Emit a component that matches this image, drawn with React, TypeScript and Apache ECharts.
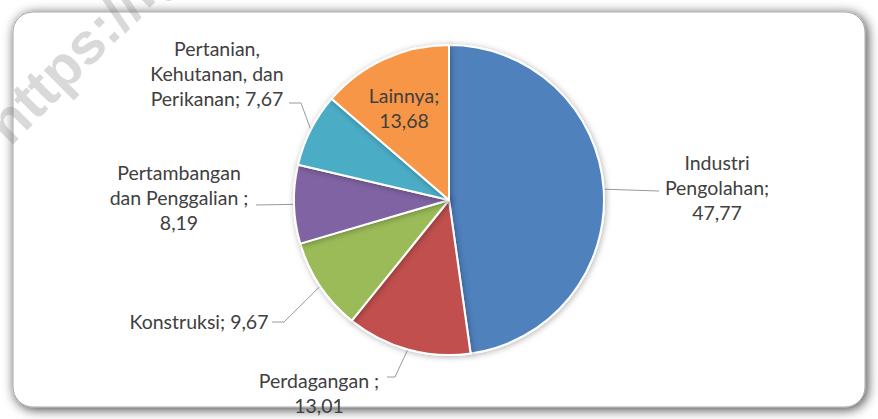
import React, { useEffect, useRef } from 'react';
import * as echarts from 'echarts';

const categories = [
  'Industri Pengolahan',
  'Perdagangan',
  'Konstruksi',
  'Pertambangan dan Penggalian',
  'Pertanian, Kehutanan, dan Perikanan',
  'Lainnya',
];
const values = [47.77, 13.01, 9.67, 8.19, 7.67, 13.68];
const labelTexts = [
  'Industri\nPengolahan;\n47,77',
  'Perdagangan ;\n13,01',
  'Konstruksi; 9,67',
  'Pertambangan\ndan Penggalian ;\n8,19',
  'Pertanian,\nKehutanan, dan\nPerikanan; 7,67',
  'Lainnya;\n13,68',
];
const colors = ['#4F81BD', '#C0504D', '#9BBB59', '#8064A2', '#4BACC6', '#F79646'];

// label layout (block centres) and leader-line bends
const labelAnchors: number[][] = [
  [717, 187],
  [319, 393],
  [199, 321],
  [179, 197],
  [217, 73],
  [404, 108],
];
const leaderBends: number[][][] = [
  [[659, 191], [659, 191]],
  [[395, 377], [387, 377]],
  [[284, 322], [272, 322]],
  [[256, 205], [256, 205]],
  [[301, 103], [289, 103]],
  [],
];

const FONT = 'Lato, "Noto Sans", sans-serif';

export default function App() {
  const ref = useRef<HTMLDivElement>(null);
  useEffect(() => {
    if (!ref.current) return;
    const chart = echarts.init(ref.current, undefined, { renderer: 'svg' });
    chart.setOption({
      animation: false,
      backgroundColor: '#ffffff',
      graphic: [
        {
          type: 'rect',
          z: -10,
          silent: true,
          shape: { x: 13, y: 12, width: 852, height: 395, r: 20 },
          style: {
            fill: '#ffffff',
            stroke: '#a8a8a8',
            lineWidth: 1,
            shadowBlur: 12,
            shadowOffsetX: 2,
            shadowOffsetY: 2,
            shadowColor: 'rgba(0,0,0,0.75)',
          },
        },
        {
          type: 'text',
          z: 100,
          silent: true,
          x: -4,
          y: 133,
          rotation: Math.PI / 4,
          style: {
            text: 'https://lg',
            fontSize: 58,
            fontWeight: 'bold',
            fontFamily: '"Liberation Sans", Arial, sans-serif',
            fill: 'rgba(128,128,128,0.3)',
            align: 'left',
            verticalAlign: 'middle',
          },
        },
      ],
      series: [
        {
          type: 'pie',
          z: 2,
          center: [449, 200],
          radius: 155,
          startAngle: 90,
          clockwise: true,
          avoidLabelOverlap: false,
          itemStyle: {
            borderColor: '#ffffff',
            borderWidth: 2,
            shadowBlur: 6,
            shadowOffsetX: 1,
            shadowOffsetY: 1,
            shadowColor: 'rgba(0,0,0,0.3)',
          },
          label: {
            show: true,
            position: 'outside',
            color: '#404040',
            fontFamily: FONT,
            fontSize: 19.5,
            lineHeight: 25,
            align: 'center',
            formatter: (p: any) => labelTexts[p.dataIndex],
          },
          labelLine: {
            show: true,
            lineStyle: { color: '#9a9a9a', width: 1 },
          },
          labelLayout: (p: any) => {
            const i = p.dataIndex;
            const [x, y] = labelAnchors[i];
            const edge = p.labelLinePoints && p.labelLinePoints[0];
            const res: any = { x, y, align: 'center', verticalAlign: 'middle' };
            if (edge && leaderBends[i].length) {
              res.labelLinePoints = [edge, ...leaderBends[i]];
            }
            return res;
          },
          data: categories.map((name, i) => ({
            name,
            value: values[i],
            itemStyle: { color: colors[i] },
            ...(i === 5
              ? { label: { position: 'inside' }, labelLine: { show: false } }
              : {}),
          })),
        },
      ],
    });
    return () => chart.dispose();
  }, []);
  return (
    <div
      ref={ref}
      style={{ position: 'absolute', left: 0, top: 0, width: 878, height: 419 }}
    />
  );
}
